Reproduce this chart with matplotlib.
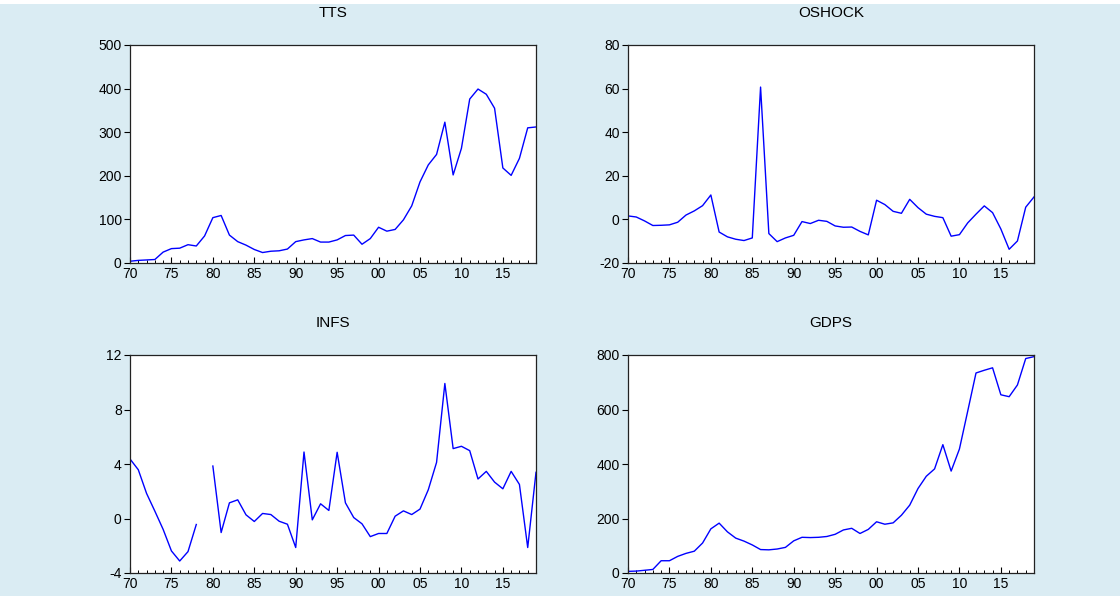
import numpy as np
import matplotlib
matplotlib.use("Agg")
import matplotlib.pyplot as plt
from matplotlib.patches import Rectangle

plt.rcParams['font.family'] = ['Liberation Sans', 'DejaVu Sans']

years = list(range(1970, 2020))

tts = [4, 6, 7, 8, 25, 33, 34, 42, 39, 62,
       104, 109, 64, 49, 41, 31, 24, 27, 28, 32,
       49, 53, 56, 48, 48, 53, 63, 64, 43, 56,
       82, 73, 77, 99, 131, 186, 225, 249, 323, 202,
       263, 376, 399, 387, 355, 218, 201, 240, 310, 312]

oshock = [1.6, 1.1, -0.7, -2.8, -2.7, -2.5, -1.3, 2.0, 3.9, 6.3,
          11.2, -5.8, -8.0, -9.1, -9.7, -8.5, 60.7, -6.5, -10.2, -8.5,
          -7.3, -1.0, -1.9, -0.4, -0.9, -3.0, -3.6, -3.5, -5.5, -7.1,
          8.8, 6.8, 3.7, 2.8, 9.2, 5.4, 2.4, 1.4, 0.8, -7.7,
          -7.0, -1.6, 2.4, 6.2, 3.1, -4.4, -13.7, -9.9, 5.6, 10.3]

infs = [4.37, 3.58, 1.84, 0.54, -0.8, -2.38, -3.12, -2.43, -0.44, np.nan,
        3.85, -1.03, 1.15, 1.37, 0.27, -0.22, 0.37, 0.29, -0.2, -0.42,
        -2.13, 4.88, -0.1, 1.08, 0.59, 4.86, 1.15, 0.07, -0.39, -1.33,
        -1.1, -1.1, 0.17, 0.56, 0.29, 0.69, 2.11, 4.12, 9.91, 5.13,
        5.3, 4.98, 2.9, 3.46, 2.67, 2.18, 3.46, 2.5, -2.13, 3.39]

gdps = [6, 7, 10, 13, 45, 45, 61, 72, 80, 110,
        162, 183, 151, 128, 117, 103, 86, 85, 88, 94,
        118, 131, 130, 131, 134, 142, 158, 164, 145, 160,
        188, 179, 184, 212, 249, 310, 355, 382, 471, 374,
        455, 594, 734, 744, 753, 654, 647, 690, 787, 794]

panels = [
    ("TTS", tts, (0, 500), [0, 100, 200, 300, 400, 500]),
    ("OSHOCK", oshock, (-20, 80), [-20, 0, 20, 40, 60, 80]),
    ("INFS", infs, (-4, 12), [-4, 0, 4, 8, 12]),
    ("GDPS", gdps, (0, 800), [0, 200, 400, 600, 800]),
]

bg = '#DAECF3'
fig = plt.figure(figsize=(11.2, 5.96), dpi=100, facecolor=bg)
fig.patches.append(Rectangle((0, 1 - 4 / 596), 1, 4 / 596, transform=fig.transFigure,
                             facecolor='white', edgecolor='none', zorder=0))

lefts = [130 / 1120, 628 / 1120]
bottoms = [1 - 263 / 596, 1 - 573 / 596]
w = 406 / 1120
h = 218 / 596

for i, (name, vals, ylim, yt) in enumerate(panels):
    ax = fig.add_axes([lefts[i % 2], bottoms[i // 2], w, h])
    ax.set_facecolor('white')
    ax.plot(years, vals, color='#0000FF', lw=1.0)
    ax.set_xlim(1970, 2019)
    ax.set_ylim(*ylim)
    ax.set_yticks(yt)
    ax.set_yticklabels([str(v) for v in yt])
    ax.set_xticks(list(range(1970, 2020, 5)))
    ax.set_xticklabels(["%02d" % (y % 100) for y in range(1970, 2020, 5)])
    ax.set_xticks(years, minor=True)
    ax.tick_params(axis='x', which='major', direction='in', length=4, width=0.8,
                   labelsize=10, pad=3, top=False)
    ax.tick_params(axis='x', which='minor', direction='in', length=2.2, width=0.7, top=False)
    ax.tick_params(axis='y', which='major', direction='out', length=4, width=0.8,
                   labelsize=10, pad=2, right=False)
    for s in ax.spines.values():
        s.set_linewidth(0.9)
        s.set_color('#222222')
    ax.set_title(name, fontsize=11, pad=20)

fig.savefig("out.png", dpi=100, facecolor=bg)
